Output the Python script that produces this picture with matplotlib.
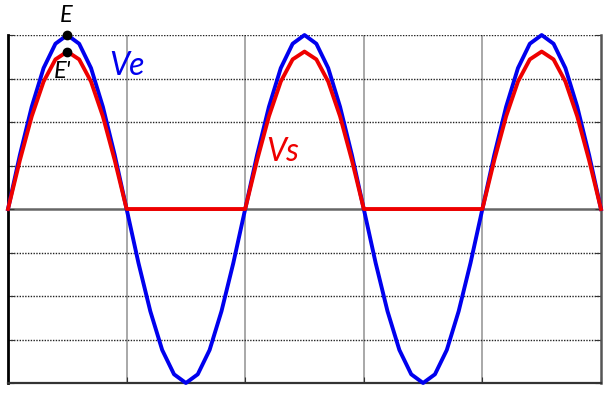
import matplotlib.pyplot as plt
import numpy as np

# Ve: input sine, sampled every 1/20 of a period (2.5 periods)
ve = [0.00, 1.24, 2.35, 3.24, 3.80, 4.00, 3.80, 3.24, 2.35, 1.24,
      0.00, -1.24, -2.35, -3.24, -3.80, -4.00, -3.80, -3.24, -2.35, -1.24,
      0.00, 1.24, 2.35, 3.24, 3.80, 4.00, 3.80, 3.24, 2.35, 1.24,
      0.00, -1.24, -2.35, -3.24, -3.80, -4.00, -3.80, -3.24, -2.35, -1.24,
      0.00, 1.24, 2.35, 3.24, 3.80, 4.00, 3.80, 3.24, 2.35, 1.24,
      0.00]
# Vs: half-wave output, slightly lower peak (E')
vs = [0.00, 1.12, 2.13, 2.93, 3.44, 3.62, 3.44, 2.93, 2.13, 1.12,
      0.00, 0.00, 0.00, 0.00, 0.00, 0.00, 0.00, 0.00, 0.00, 0.00,
      0.00, 1.12, 2.13, 2.93, 3.44, 3.62, 3.44, 2.93, 2.13, 1.12,
      0.00, 0.00, 0.00, 0.00, 0.00, 0.00, 0.00, 0.00, 0.00, 0.00,
      0.00, 1.12, 2.13, 2.93, 3.44, 3.62, 3.44, 2.93, 2.13, 1.12,
      0.00]
t = np.linspace(0, 2.5, len(ve))

E = 4.00
E2 = 3.62
t_peak = 0.25

fig = plt.figure(figsize=(6.11, 3.94), dpi=100)
ax = fig.add_axes([0.0131, 0.0279, 0.9705, 0.8832])

ax.set_xlim(0, 2.5)
ax.set_ylim(-4, 4)
ax.set_xticks([0, 0.5, 1.0, 1.5, 2.0, 2.5])
ax.set_yticks(range(-4, 5))
ax.set_xticklabels([])
ax.set_yticklabels([])
ax.tick_params(direction='in', length=4, color='#333333',
               top=False, right=True, left=True, bottom=True)

# grid: grey solid verticals, dotted horizontals
for xv in [0.5, 1.0, 1.5, 2.0]:
    ax.axvline(xv, color='#999999', lw=1.2, zorder=1)
for yv in [-3, -2, -1, 1, 2, 3, 4]:
    ax.axhline(yv, color='#222222', lw=1, ls=(0, (1, 1)), zorder=1)
ax.axhline(0, color='#666666', lw=1.8, zorder=1)

ax.spines['top'].set_visible(False)
ax.spines['left'].set_color('black')
ax.spines['left'].set_linewidth(2)
ax.spines['bottom'].set_color('#333333')
ax.spines['bottom'].set_linewidth(1.6)
ax.spines['right'].set_color('#555555')
ax.spines['right'].set_linewidth(1.8)

ax.plot(t, ve, color='#0000ee', lw=2.8, zorder=3, clip_on=False)
ax.plot(t, vs, color='#ee0000', lw=2.8, zorder=4, clip_on=False)

ax.plot([t_peak, t_peak], [E, E2], 'o', color='black', ms=6, zorder=5, clip_on=False)

fnt = 'Lato'
ax.text(0.245, 4.46, 'E', fontsize=17, style='italic', family=fnt,
        ha='center', va='center')
ax.text(0.195, 3.15, "E'", fontsize=17, style='italic', family=fnt,
        ha='left', va='center')
ax.text(0.425, 3.29, 'Ve', fontsize=23, style='italic', family=fnt,
        color='#0000ee', ha='left', va='center')
ax.text(1.09, 1.31, 'Vs', fontsize=23, style='italic', family=fnt,
        color='#ee0000', ha='left', va='center')

plt.savefig('out.png', dpi=100)
